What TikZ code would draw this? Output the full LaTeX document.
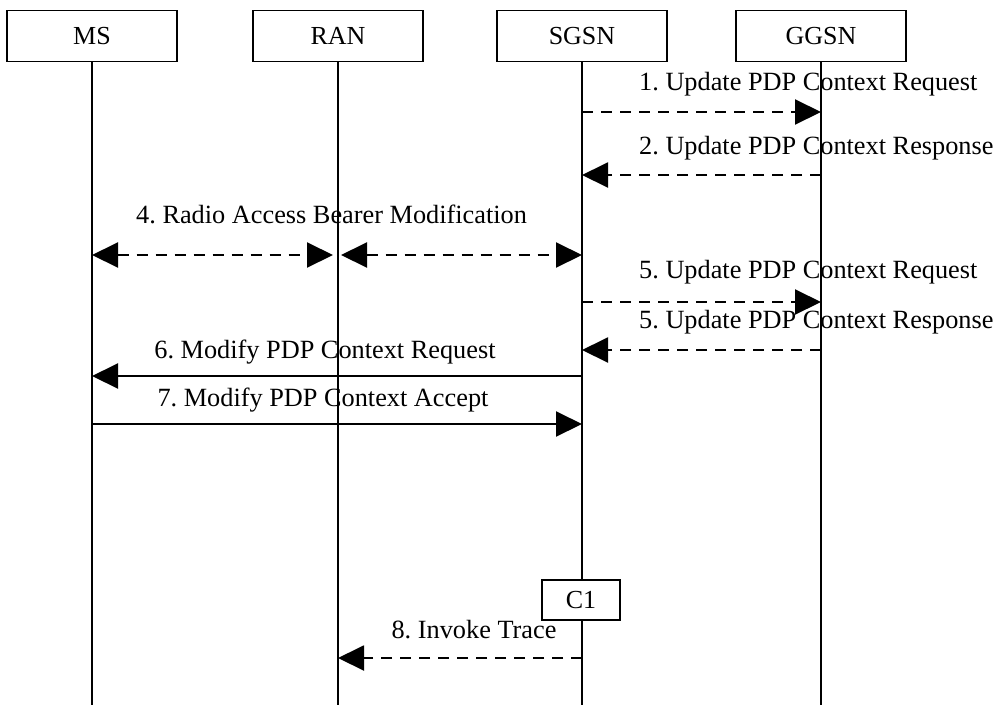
\documentclass[tikz,border=0pt]{standalone}
\usepackage{fontspec}
\setmainfont{Liberation Serif}
\usetikzlibrary{arrows.meta}
\begin{document}
\frenchspacing
\begin{tikzpicture}[x=1pt,y=-1pt,
  ent/.style={draw, line width=1.4pt, minimum width=170pt, minimum height=51pt, inner sep=0pt, fill=white, font=\fontsize{26}{30}\selectfont},
  life/.style={line width=1.6pt},
  msg/.style={line width=2pt, -{Triangle[length=26pt,width=25pt]}},
  dmsg/.style={msg, dash pattern=on 11pt off 8pt},
  ddmsg/.style={line width=2pt, {Triangle[length=26pt,width=25pt]}-{Triangle[length=26pt,width=25pt]}, dash pattern=on 11pt off 8pt},
  lbl/.style={font=\fontsize{26.3}{30}\selectfont, inner sep=0pt, text height=17pt, text depth=5pt}]
\useasboundingbox (0,0) rectangle (996,705);
\node[ent] (ms) at (92,36) {MS};
\node[ent] (ran) at (338,36) {RAN};
\node[ent] (sgsn) at (582,36) {SGSN};
\node[ent] (ggsn) at (821,36) {GGSN};
\coordinate (msE) at (92,705);
\coordinate (ranE) at (338,705);
\coordinate (sgsnE) at (582,705);
\coordinate (ggsnE) at (821,705);
\draw[life] (ms.south) -- (msE);
\draw[life] (ran.south) -- (ranE);
\draw[life] (ggsn.south) -- (ggsnE);
\node[ent, minimum width=78pt, minimum height=40pt] (c1) at (581,600) {C1};
\draw[life] (sgsn.south) -- (c1.north -| sgsn.south);
\draw[life] (c1.south -| sgsn.south) -- (sgsnE);
% message 1
\coordinate (s1) at (582,112); \coordinate (g1) at (821,112);
\draw[dmsg] (s1) -- (g1);
\node[lbl, anchor=west] (l1) at (639,84) {1. Update PDP Context Request};
% message 2
\coordinate (s2) at (582,175); \coordinate (g2) at (821,175);
\draw[dmsg] (g2) -- (s2);
\node[lbl, anchor=west] (l2) at (639,148) {2. Update PDP Context Response};
% message 4
\coordinate (m4) at (92,255); \coordinate (r4a) at (333,255);
\coordinate (r4b) at (341,255); \coordinate (s4) at (582,255);
\draw[ddmsg] (m4) -- (r4a);
\draw[ddmsg] (r4b) -- (s4);
\node[lbl, anchor=west] (l4) at (136,217) {4. Radio Access Bearer Modification};
% message 5 request
\coordinate (s5) at (582,302); \coordinate (g5) at (821,302);
\draw[dmsg] (s5) -- (g5);
\node[lbl, anchor=west] (l5) at (639,272) {5. Update PDP Context Request};
% message 5 response
\coordinate (s5r) at (582,350); \coordinate (g5r) at (821,350);
\draw[dmsg] (g5r) -- (s5r);
\node[lbl, anchor=west] (l5r) at (639,322) {5. Update PDP Context Response};
% message 6
\coordinate (s6) at (582,376); \coordinate (m6) at (92,376);
\draw[msg] (s6) -- (m6);
\node[lbl] (l6) at (325,352) {6. Modify PDP Context Request};
% message 7
\coordinate (m7) at (92,424); \coordinate (s7) at (582,424);
\draw[msg] (m7) -- (s7);
\node[lbl] (l7) at (323,400) {7. Modify PDP Context Accept};
% message 8
\coordinate (s8) at (582,658); \coordinate (r8) at (338,658);
\draw[dmsg] (s8) -- (r8);
\node[lbl] (l8) at (474,632) {8. Invoke Trace};
\end{tikzpicture}
\end{document}
